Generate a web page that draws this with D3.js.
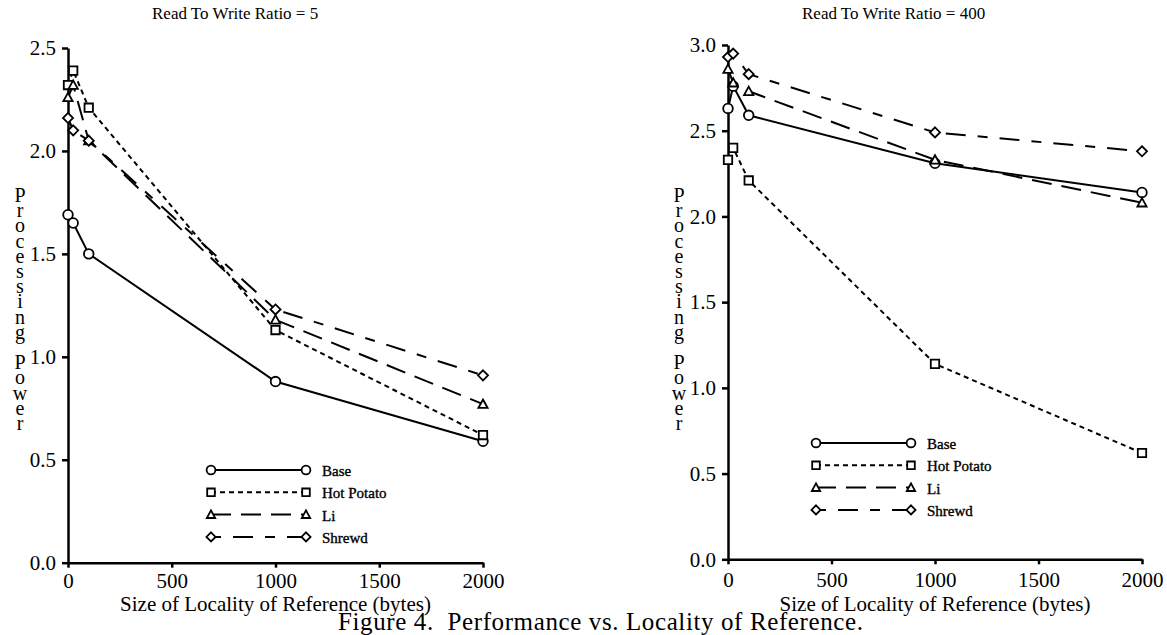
<!DOCTYPE html>
<meta charset="utf-8">
<style>
  body { margin: 0; background: #fff; }
  svg { display: block; background: #fff; font-family: "Liberation Serif", serif; }
  .axis path, .axis line { stroke: #000; stroke-width: 2.5px; }
  .series { fill: none; stroke: #000; stroke-width: 2px; }
  .marker { fill: #fff; stroke: #000; stroke-width: 1.8px; }
  .legend text { font-size: 15px; fill: #000; stroke: #000; stroke-width: 0.35px; }
  .ylab { writing-mode: vertical-rl; text-orientation: upright; }
</style>
<body>
<svg width="1167" height="635"></svg>
<script src="https://cdn.jsdelivr.net/npm/d3@7"></script>
<script>
// locality sizes (bytes)
var xVals = [0, 25, 100, 1000, 2000];
var seriesNames = ["Base", "Hot Potato", "Li", "Shrewd"];
var xTicks = [0, 500, 1000, 1500, 2000];

// Read to write ratio = 5
var base5 = [1.69, 1.65, 1.50, 0.88, 0.59];
var hotPotato5 = [2.32, 2.39, 2.21, 1.13, 0.62];
var li5 = [2.26, 2.32, 2.05, 1.18, 0.77];
var shrewd5 = [2.16, 2.10, 2.05, 1.23, 0.91];
var yTicks5 = [0, 0.5, 1.0, 1.5, 2.0, 2.5];

// Read to write ratio = 400
var base400 = [2.63, 2.76, 2.59, 2.31, 2.14];
var hotPotato400 = [2.33, 2.40, 2.21, 1.14, 0.62];
var li400 = [2.86, 2.78, 2.73, 2.33, 2.08];
var shrewd400 = [2.93, 2.95, 2.83, 2.49, 2.38];
var yTicks400 = [0, 0.5, 1.0, 1.5, 2.0, 2.5, 3.0];

var dashes = ["none", "5,4", "20,10", "10,12,20,12"];
var shapes = ["circle", "square", "triangle", "diamond"];

var svg = d3.select("svg");

function markerPath(shape, s) {
  if (shape === "square") return "M" + (-s) + "," + (-s) + "h" + (2 * s) + "v" + (2 * s) + "h" + (-2 * s) + "Z";
  if (shape === "triangle") return "M0," + (-s * 1.1) + "L" + (s * 1.1) + "," + (s * 0.9) + "L" + (-s * 1.1) + "," + (s * 0.9) + "Z";
  if (shape === "diamond") return "M0," + (-s * 1.2) + "L" + (s * 1.2) + ",0L0," + (s * 1.2) + "L" + (-s * 1.2) + ",0Z";
  return null;
}

function drawMarker(g, shape, x, y, s) {
  if (shape === "circle") {
    g.append("circle").attr("class", "marker").attr("cx", x).attr("cy", y).attr("r", s + 0.6);
  } else {
    g.append("path").attr("class", "marker")
      .attr("transform", "translate(" + x + "," + y + ")")
      .attr("d", markerPath(shape, s));
  }
}

function serifTicks(sel) {
  sel.attr("font-family", null).attr("font-size", null);
  sel.selectAll("text")
    .style("font-family", "'Liberation Serif', 'Times New Roman', serif")
    .style("font-size", "21px")
    .attr("fill", "#000");
}

function drawPanel(p) {
  var x = d3.scaleLinear().domain([0, 2000]).range([p.x0, p.x1]);
  var y = d3.scaleLinear().domain([0, p.ymax]).range([p.y0, p.y1]);
  var g = svg.append("g");

  g.append("g").attr("class", "axis")
    .attr("transform", "translate(0," + p.y0 + ")")
    .call(d3.axisBottom(x).tickValues(xTicks).tickFormat(d3.format("d")).tickSize(5).tickSizeOuter(0).tickPadding(p.xPad))
    .call(serifTicks);
  g.append("g").attr("class", "axis")
    .attr("transform", "translate(" + p.x0 + ",0)")
    .call(d3.axisLeft(y).tickValues(p.yTicks).tickFormat(d3.format(".1f")).tickSize(6).tickSizeOuter(0).tickPadding(6))
    .call(serifTicks);

  var line = d3.line().x(function(d, i) { return x(xVals[i]); }).y(function(d) { return y(d); });

  p.series.forEach(function(vals, k) {
    g.append("path").attr("class", "series")
      .attr("d", line(vals))
      .attr("stroke-dasharray", dashes[k]);
  });
  p.series.forEach(function(vals, k) {
    vals.forEach(function(v, i) { drawMarker(g, shapes[k], x(xVals[i]), y(v), 4.2); });
  });

  // title
  g.append("text").attr("x", p.titleX).attr("y", 19)
    .attr("font-size", 17).text(p.title);

  // x axis title
  g.append("text").attr("x", (p.x0 + p.x1) / 2).attr("y", 611)
    .attr("text-anchor", "middle").attr("font-size", 21)
    .text("Size of Locality of Reference (bytes)");

  // stacked y axis title
  g.append("text").attr("class", "ylab")
    .attr("x", p.labelX).attr("y", 184)
    .attr("font-size", 20)
    .attr("letter-spacing", -6.8)
    .text("Processing Power");

  // legend
  var lg = g.append("g").attr("class", "legend");
  seriesNames.forEach(function(name, k) {
    var ly = p.legY + k * 22.3;
    lg.append("line").attr("class", "series")
      .attr("x1", p.legX).attr("x2", p.legX + 95)
      .attr("y1", ly).attr("y2", ly)
      .attr("stroke-width", 1.5)
      .attr("stroke-dasharray", dashes[k]);
    drawMarker(lg, shapes[k], p.legX, ly, 3.8);
    drawMarker(lg, shapes[k], p.legX + 95, ly, 3.8);
    lg.append("text").attr("x", p.legX + 111).attr("y", ly + 6).text(name);
  });
}

drawPanel({
  x0: 68, x1: 483, y0: 562.7, y1: 48, ymax: 2.5, yTicks: yTicks5,
  series: [base5, hotPotato5, li5, shrewd5],
  title: "Read To Write Ratio = 5", titleX: 152, xPad: 5,
  labelX: 20, legX: 211, legY: 470
});

drawPanel({
  x0: 728, x1: 1142, y0: 559.3, y1: 45, ymax: 3.0, yTicks: yTicks400,
  series: [base400, hotPotato400, li400, shrewd400],
  title: "Read To Write Ratio = 400", titleX: 802, xPad: 8,
  labelX: 679, legX: 816, legY: 443
});

svg.append("text")
  .attr("x", 338).attr("y", 630)
  .attr("font-size", 25)
  .attr("textLength", 525).attr("lengthAdjust", "spacing")
  .style("white-space", "pre")
  .text("Figure 4.  Performance vs. Locality of Reference.");
</script>
</body>
